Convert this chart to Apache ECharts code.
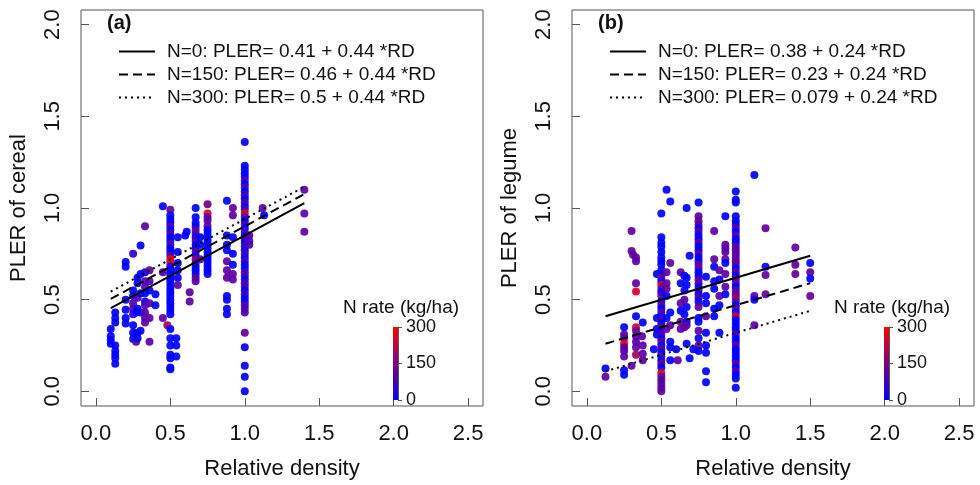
<!DOCTYPE html>
<html>
<head>
<meta charset="utf-8">
<script src="https://cdn.jsdelivr.net/npm/echarts@6/dist/echarts.min.js"></script>
<style>html,body{margin:0;padding:0;background:#fff}#c{width:980px;height:485px}</style>
</head>
<body>
<div id="c"></div>
<script>
// ---------- DATA ----------
const xTicks = [0, 0.5, 1, 1.5, 2, 2.5];
const yTicks = [0, 0.5, 1, 1.5, 2];
const nTicks = [0, 150, 300];
const panelLetters = ['(a)', '(b)'];
const yTitles = ['PLER of cereal', 'PLER of legume'];
const xTitle = 'Relative density';
const colorbarTitle = 'N rate (kg/ha)';

// regression lines
const cerealIntercepts = [0.41, 0.46, 0.5];
const cerealSlope = 0.44;
const cerealRange = [0.1, 1.4];
const cerealLabels = ['N=0: PLER= 0.41 + 0.44 *RD', 'N=150: PLER= 0.46 + 0.44 *RD', 'N=300: PLER= 0.5 + 0.44 *RD'];
const legumeIntercepts = [0.38, 0.23, 0.079];
const legumeSlope = 0.24;
const legumeRange = [0.125, 1.5];
const legumeLabels = ['N=0: PLER= 0.38 + 0.24 *RD', 'N=150: PLER= 0.23 + 0.24 *RD', 'N=300: PLER= 0.079 + 0.24 *RD'];

// points: [relative density, PLER, N rate]
const cerealPoints = [
[0.1,0.34,0],[0.1,0.30,0],[0.1,0.28,0],[0.1,0.26,0],
[0.13,0.43,0],[0.13,0.40,0],[0.13,0.375,0],[0.13,0.25,0],[0.13,0.22,0],[0.13,0.2,0],[0.13,0.18,0],[0.13,0.15,0],
[0.2,0.705,0],[0.2,0.68,0],[0.2,0.5,0],[0.2,0.445,0],[0.2,0.40,0],[0.2,0.37,0],
[0.25,0.75,60],[0.25,0.55,0],[0.25,0.52,0],[0.25,0.48,100],[0.25,0.45,100],[0.25,0.42,60],[0.25,0.36,0],[0.25,0.32,0],[0.25,0.285,0],[0.27,0.27,100],
[0.28,0.62,0],[0.28,0.59,0],[0.28,0.51,100],[0.28,0.45,0],[0.28,0.32,0],[0.28,0.29,0],[0.27,0.43,0],
[0.3,0.795,0],[0.3,0.64,0],[0.3,0.535,0],[0.3,0.43,0],[0.3,0.33,0],
[0.33,0.90,110],[0.33,0.65,0],[0.33,0.60,110],[0.33,0.57,90],[0.33,0.535,0],[0.33,0.49,0],[0.33,0.47,100],[0.33,0.43,100],[0.33,0.375,110],[0.33,0.40,90],
[0.36,0.66,110],[0.36,0.60,90],[0.36,0.55,0],[0.36,0.48,110],[0.36,0.40,110],[0.36,0.27,110],
[0.4,0.53,0],[0.4,0.47,0],
[0.45,1.01,0],[0.45,0.65,100],[0.45,0.40,110],[0.48,0.36,200],
[0.5,0.99,130],[0.5,0.96,0],[0.5,0.94,0],[0.5,0.92,0],[0.5,0.90,100],[0.5,0.88,0],[0.5,0.86,100],[0.5,0.84,0],[0.5,0.82,0],[0.5,0.80,110],[0.5,0.78,0],[0.5,0.76,0],[0.5,0.74,100],[0.5,0.72,260],[0.5,0.70,260],[0.5,0.68,0],[0.5,0.66,0],[0.5,0.64,0],[0.5,0.62,0],[0.5,0.60,0],[0.5,0.58,0],[0.5,0.56,0],[0.5,0.54,0],[0.5,0.52,0],[0.5,0.50,0],[0.5,0.48,0],[0.5,0.46,0],[0.5,0.44,0],[0.5,0.42,0],[0.5,0.34,0],[0.5,0.29,0],[0.5,0.25,0],[0.5,0.20,0],[0.5,0.18,0],[0.5,0.13,0],[0.5,0.12,0],
[0.54,0.29,0],[0.54,0.25,0],[0.54,0.19,0],
[0.55,0.84,0],[0.55,0.76,0],[0.55,0.70,0],[0.55,0.66,0],[0.55,0.62,0],[0.55,0.58,110],
[0.61,0.87,0],[0.6,0.85,0],[0.63,0.54,110],[0.63,0.49,110],
[0.67,1.00,0],[0.67,0.95,0],[0.67,0.92,0],[0.67,0.90,0],[0.67,0.88,110],[0.67,0.86,110],[0.67,0.84,0],[0.67,0.82,110],[0.67,0.80,0],[0.67,0.78,0],[0.67,0.76,110],[0.67,0.74,0],[0.67,0.72,180],[0.67,0.70,110],[0.67,0.68,0],[0.67,0.66,0],[0.67,0.64,0],[0.67,0.62,110],[0.67,0.60,110],
[0.7,0.84,0],[0.7,0.80,0],[0.7,0.72,100],
[0.75,1.02,130],[0.75,0.97,260],[0.75,0.95,100],[0.75,0.93,110],[0.75,0.90,110],[0.75,0.88,0],[0.75,0.86,0],[0.75,0.84,0],[0.75,0.82,0],[0.75,0.80,0],[0.75,0.78,0],[0.75,0.76,0],[0.75,0.74,0],[0.75,0.72,0],[0.75,0.70,0],[0.75,0.68,0],[0.75,0.66,0],[0.75,0.64,0],
[0.88,1.04,0],[0.88,0.85,0],[0.88,0.80,0],[0.88,0.77,0],[0.88,0.71,110],[0.88,0.66,110],[0.88,0.62,110],[0.88,0.52,0],[0.88,0.50,0],[0.88,0.45,0],[0.88,0.42,0],
[0.92,1.00,110],[0.92,0.96,110],[0.92,0.84,0],[0.92,0.75,0],[0.92,0.69,0],[0.92,0.64,110],[0.92,0.61,110],
[1,1.36,0],[1,1.23,0],[1,1.21,0],[1,1.19,0],[1,1.17,0],[1,1.15,90],[1,1.13,0],[1,1.11,90],[1,1.09,0],[1,1.07,90],[1,1.05,0],[1,1.03,90],[1,1.01,0],[1,0.99,90],[1,0.97,260],[1,0.95,90],[1,0.93,0],[1,0.91,90],[1,0.89,0],[1,0.87,90],[1,0.85,0],[1,0.83,90],[1,0.81,0],[1,0.79,90],[1,0.77,0],[1,0.75,90],[1,0.73,0],[1,0.71,90],[1,0.69,0],[1,0.67,0],[1,0.65,90],[1,0.63,90],[1,0.61,0],[1,0.59,90],[1,0.57,90],[1,0.55,0],[1,0.53,90],[1,0.51,0],[1,0.49,0],[1,0.47,90],[1,0.45,90],[1,0.43,90],[1,0.32,110],[1,0.24,0],[1,0.14,0],[1,0.08,0],[1,0.0,0],
[1.03,0.85,90],[1.03,0.82,90],[1.03,0.80,90],
[1.12,1.00,110],[1.13,0.96,0],
[1.4,1.10,110],[1.4,0.97,110],[1.4,0.87,110]
];

const legumePoints = [
[0.125,0.125,0],[0.125,0.08,110],
[0.25,0.35,0],[0.25,0.31,100],[0.25,0.29,110],[0.25,0.26,260],[0.25,0.24,110],[0.25,0.22,100],[0.25,0.19,110],[0.25,0.115,0],[0.25,0.09,0],
[0.3,0.875,120],[0.3,0.765,120],[0.31,0.745,110],[0.3,0.14,110],
[0.33,0.73,110],[0.33,0.71,110],[0.33,0.59,110],[0.33,0.545,260],[0.33,0.41,0],[0.33,0.35,260],[0.33,0.33,110],[0.33,0.30,110],[0.33,0.27,100],[0.33,0.24,110],[0.33,0.20,200],
[0.375,0.375,0],[0.37,0.30,110],[0.375,0.25,110],[0.375,0.205,110],[0.375,0.17,110],
[0.45,0.23,0],
[0.47,0.64,0],[0.47,0.40,0],[0.47,0.34,0],[0.47,0.31,0],
[0.5,0.97,0],[0.5,0.84,0],[0.5,0.81,0],[0.5,0.79,0],[0.5,0.76,0],[0.5,0.73,0],[0.5,0.71,0],[0.5,0.69,0],[0.5,0.66,0],[0.5,0.64,0],[0.5,0.62,110],[0.5,0.60,0],[0.5,0.58,260],[0.5,0.56,110],[0.5,0.54,0],[0.5,0.52,110],[0.5,0.49,0],[0.5,0.47,110],[0.5,0.45,0],[0.5,0.43,110],[0.5,0.41,0],[0.5,0.39,110],[0.5,0.37,0],[0.5,0.35,110],[0.5,0.33,0],[0.5,0.31,110],[0.5,0.29,0],[0.5,0.27,110],[0.5,0.25,0],[0.5,0.23,110],[0.5,0.21,0],[0.5,0.19,110],[0.5,0.17,0],[0.5,0.15,110],[0.5,0.13,0],[0.5,0.10,260],[0.5,0.08,110],[0.5,0.06,110],[0.5,0.04,110],[0.5,0.02,110],[0.5,0.0,110],
[0.535,1.10,0],[0.535,0.65,110],[0.535,0.59,110],[0.535,0.56,110],[0.535,0.52,0],[0.535,0.40,0],[0.535,0.34,110],
[0.56,1.035,0],[0.56,0.70,110],[0.56,0.43,0],[0.56,0.36,110],[0.56,0.27,0],[0.56,0.24,0],[0.56,0.17,0],
[0.6,0.23,0],[0.61,0.17,110],
[0.63,0.65,110],[0.63,0.59,0],[0.63,0.48,110],[0.63,0.44,0],[0.63,0.38,110],[0.63,0.34,110],
[0.655,0.63,0],[0.655,0.55,0],[0.655,0.50,110],[0.655,0.42,0],[0.655,0.35,110],
[0.67,1.00,0],[0.67,0.62,0],[0.67,0.58,0],[0.67,0.46,0],[0.67,0.38,0],[0.67,0.36,110],[0.67,0.26,0],
[0.69,0.74,0],[0.69,0.18,0],[0.715,0.23,0],
[0.75,1.03,0],[0.75,0.955,110],[0.75,0.93,110],[0.75,0.91,110],[0.75,0.89,0],[0.75,0.87,110],[0.75,0.85,0],[0.75,0.83,0],[0.75,0.81,110],[0.75,0.79,0],[0.75,0.77,0],[0.75,0.75,110],[0.75,0.73,0],[0.75,0.71,0],[0.75,0.69,110],[0.75,0.67,110],[0.75,0.65,0],[0.75,0.63,0],[0.75,0.61,110],[0.75,0.59,110],[0.75,0.57,0],[0.75,0.55,110],[0.75,0.53,0],[0.75,0.51,110],[0.75,0.49,0],[0.75,0.46,110],[0.75,0.40,0],[0.75,0.38,0],[0.75,0.33,110],[0.75,0.29,0],[0.75,0.25,110],[0.75,0.22,0],
[0.8,0.625,0],[0.8,0.52,0],[0.8,0.48,0],[0.8,0.41,110],[0.8,0.32,0],[0.8,0.25,0],[0.8,0.21,0],[0.8,0.11,0],[0.8,0.05,0],
[0.855,0.875,110],[0.855,0.72,110],[0.855,0.68,0],[0.855,0.60,0],[0.855,0.56,0],[0.855,0.45,0],[0.855,0.41,0],
[0.89,0.66,110],[0.89,0.61,0],[0.89,0.52,110],[0.89,0.47,0],[0.89,0.32,0],
[0.93,0.955,0],[0.93,0.80,110],[0.93,0.78,110],[0.93,0.76,110],[0.93,0.72,110],[0.93,0.70,0],[0.93,0.64,110],[0.93,0.57,110],[0.93,0.53,0],
[1,1.09,0],[1,1.045,0],[1,1.03,0],[1,0.955,0],[1,0.93,0],[1,0.91,0],[1,0.89,110],[1,0.87,0],[1,0.85,110],[1,0.83,0],[1,0.81,0],[1,0.79,110],[1,0.77,110],[1,0.75,110],[1,0.73,110],[1,0.71,110],[1,0.69,110],[1,0.67,0],[1,0.65,110],[1,0.63,0],[1,0.61,110],[1,0.59,110],[1,0.57,0],[1,0.55,110],[1,0.53,110],[1,0.51,180],[1,0.49,110],[1,0.47,0],[1,0.45,110],[1,0.43,0],[1,0.41,260],[1,0.39,0],[1,0.37,0],[1,0.35,0],[1,0.33,0],[1,0.31,110],[1,0.29,0],[1,0.27,0],[1,0.25,110],[1,0.23,0],[1,0.21,0],[1,0.19,0],[1,0.17,0],[1,0.15,110],[1,0.13,0],[1,0.11,110],[1,0.09,0],[1,0.07,0],[1,0.02,0],
[1.125,1.18,0],[1.125,0.52,110],[1.125,0.50,0],[1.125,0.36,110],
[1.2,0.89,120],[1.2,0.68,0],[1.2,0.635,110],[1.2,0.53,120],
[1.4,0.785,120],[1.4,0.69,110],[1.4,0.64,120],
[1.5,0.70,0],[1.5,0.65,110],[1.5,0.615,0],[1.5,0.52,120]
];

// ---------- CHART ----------
const FONT = '"Liberation Sans", Arial, sans-serif';
const AX = '#555';
const TXT = '#111';
const chart = echarts.init(document.getElementById('c'), null, {renderer: 'canvas'});

const mainGrids = [{left: 81, top: 10, width: 402, height: 402}, {left: 572, top: 10, width: 402, height: 402}];
const cbGrids = [{left: 393, top: 327, width: 5, height: 73}, {left: 884, top: 327, width: 5, height: 73}];
const lineTypes = ['solid', [9, 5], [2, 4]];

const grids = [], xAxes = [], yAxes = [], series = [], legends = [], graphics = [];
const fmt1 = v => v.toFixed(1);

mainGrids.forEach((g, i) => {
  grids.push(Object.assign({show: true, borderColor: AX, borderWidth: 1, backgroundColor: 'transparent'}, g));
  xAxes.push({
    type: 'value', gridIndex: i, min: -0.1, max: 2.6,
    name: xTitle, nameLocation: 'middle', nameGap: 52,
    nameTextStyle: {fontFamily: FONT, fontSize: 22, color: TXT},
    axisLine: {show: false, onZero: false},
    axisTick: {show: true, inside: true, length: 8, customValues: xTicks, lineStyle: {color: AX}},
    axisLabel: {customValues: xTicks, formatter: fmt1, margin: 17, fontFamily: FONT, fontSize: 22, color: TXT},
    splitLine: {show: false}
  });
  yAxes.push({
    type: 'value', gridIndex: i, min: -0.08, max: 2.08,
    name: yTitles[i], nameLocation: 'middle', nameGap: 51,
    nameTextStyle: {fontFamily: FONT, fontSize: 22, color: TXT},
    axisLine: {show: false, onZero: false},
    axisTick: {show: true, inside: true, length: 8, customValues: yTicks, lineStyle: {color: AX}},
    axisLabel: {customValues: yTicks, formatter: fmt1, rotate: 90, margin: 17, fontFamily: FONT, fontSize: 22, color: TXT},
    splitLine: {show: false}
  });
});

cbGrids.forEach((g, i) => {
  grids.push(Object.assign({}, g));
  xAxes.push({type: 'category', gridIndex: 2 + i, data: ['N'], show: false});
  yAxes.push({
    type: 'value', gridIndex: 2 + i, min: 0, max: 300, interval: 150, position: 'right',
    axisLine: {show: true, onZero: false, lineStyle: {color: AX}},
    axisTick: {show: true, length: 4, lineStyle: {color: AX}},
    axisLabel: {margin: 8, fontFamily: FONT, fontSize: 18, color: TXT},
    splitLine: {show: false}
  });
});

// scatter series
[cerealPoints, legumePoints].forEach((pts, i) => {
  series.push({
    type: 'scatter', xAxisIndex: i, yAxisIndex: i, data: pts, symbolSize: 8,
    itemStyle: {opacity: 0.92}, silent: true, z: 2
  });
});

// regression line series
const regs = [
  {ints: cerealIntercepts, slope: cerealSlope, range: cerealRange, labels: cerealLabels},
  {ints: legumeIntercepts, slope: legumeSlope, range: legumeRange, labels: legumeLabels}
];
regs.forEach((r, i) => {
  r.ints.forEach((a, k) => {
    series.push({
      type: 'line', name: r.labels[k], xAxisIndex: i, yAxisIndex: i,
      data: r.range.map(x => [x, a + r.slope * x]),
      symbol: 'none', silent: true, z: 3,
      lineStyle: {color: '#000', width: 2, type: lineTypes[k]},
      itemStyle: {color: '#000'}
    });
  });
  legends.push({
    data: r.labels,
    left: mainGrids[i].left + 32, top: 37, orient: 'vertical',
    itemWidth: 36, itemHeight: 14, itemGap: 4, selectedMode: false,
    itemStyle: {opacity: 0},
    textStyle: {fontFamily: FONT, fontSize: 19, color: TXT, padding: [0, 0, 0, 7]}
  });
});

// colorbar bars
[0, 1].forEach(i => {
  series.push({
    type: 'bar', xAxisIndex: 2 + i, yAxisIndex: 2 + i, data: [nTicks[nTicks.length - 1]],
    barWidth: '100%', silent: true,
    itemStyle: {color: new echarts.graphic.LinearGradient(0, 1, 0, 0, [{offset: 0, color: '#0000ff'}, {offset: 1, color: '#ff0000'}])}
  });
});

// texts
[0, 1].forEach(i => {
  graphics.push({
    type: 'text', x: mainGrids[i].left + 26, y: 23,
    style: {text: panelLetters[i], fontFamily: FONT, fontSize: 20, fontWeight: 'bold', fill: TXT, textVerticalAlign: 'middle', textAlign: 'left'}
  });
  graphics.push({
    type: 'text', x: cbGrids[i].left + 8, y: 308,
    style: {text: colorbarTitle, fontFamily: FONT, fontSize: 19, fill: TXT, textVerticalAlign: 'middle', textAlign: 'center'}
  });
});

chart.setOption({
  animation: false,
  backgroundColor: '#fff',
  grid: grids, xAxis: xAxes, yAxis: yAxes,
  legend: legends,
  visualMap: {
    type: 'continuous', show: false, min: 0, max: 300, dimension: 2, seriesIndex: [0, 1],
    inRange: {color: ['#0000ff', '#ff0000']}
  },
  graphic: graphics,
  series: series
});
</script>
</body>
</html>
